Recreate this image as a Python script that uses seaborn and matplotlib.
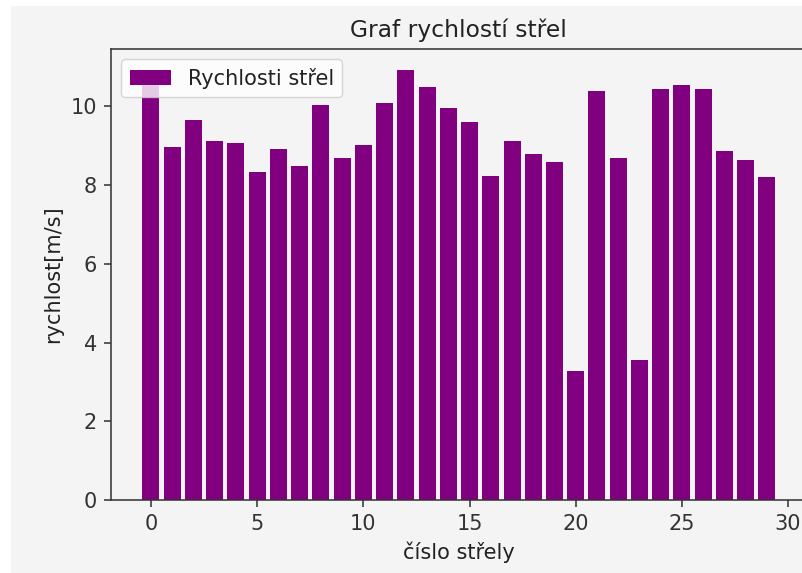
import matplotlib
matplotlib.use("Agg")
import matplotlib.pyplot as plt
import seaborn as sns
import pandas as pd
from matplotlib.patches import Rectangle

shots = list(range(30))
speeds = [10.57, 8.96, 9.65, 9.13, 9.08, 8.33, 8.91, 8.49, 10.04, 8.70,
          9.01, 10.09, 10.92, 10.50, 9.96, 9.60, 8.23, 9.13, 8.80, 8.59,
          3.29, 10.39, 8.69, 3.55, 10.44, 10.55, 10.44, 8.86, 8.64, 8.22]
title = "Graf rychlostí střel"
xlabel = "číslo střely"
ylabel = "rychlost[m/s]"
legend_label = "Rychlosti střel"

df = pd.DataFrame({"shot": shots, "speed": speeds})

S = 1.4
FS = 15
plt.rcParams.update({
    "font.family": ["DejaVu Sans"],
    "font.size": FS,
    "axes.linewidth": 0.8 * S,
    "xtick.major.size": 3.5 * S,
    "ytick.major.size": 3.5 * S,
    "xtick.major.width": 0.8 * S,
    "ytick.major.width": 0.8 * S,
    "xtick.major.pad": 3.5 * S,
    "ytick.major.pad": 3.5 * S,
    "axes.labelpad": 4 * S,
    "axes.titlepad": 6 * S,
    "axes.edgecolor": "#333333",
    "xtick.color": "#333333",
    "ytick.color": "#333333",
    "text.color": "#222222",
    "axes.labelcolor": "#222222",
})

fig = plt.figure(figsize=(8.03, 5.73), dpi=100, facecolor="white")
fig.patches.append(Rectangle((11 / 803, 0), 1 - 11 / 803, 1 - 6 / 573,
                             transform=fig.transFigure, facecolor="#f4f4f4",
                             edgecolor="none", zorder=-10))
ax = fig.add_axes([0.138, 0.127, 0.867, 0.7875])
ax.set_facecolor("#f4f4f4")

sns.barplot(data=df, x="shot", y="speed", native_scale=True, width=0.8,
            color="#800080", saturation=1, label=legend_label, ax=ax,
            errorbar=None)

ax.set_xlim(-1.89, 30.89)
ax.set_ylim(0, 11.46)
ax.set_xticks([0, 5, 10, 15, 20, 25, 30])
ax.set_yticks([0, 2, 4, 6, 8, 10])
ax.tick_params(labelsize=FS)
ax.set_title(title, fontsize=12 * S)
ax.set_xlabel(xlabel, fontsize=FS)
ax.set_ylabel(ylabel, fontsize=FS)
ax.legend(loc="upper left", fontsize=FS)

fig.savefig("out.png", dpi=100, facecolor=fig.get_facecolor())
